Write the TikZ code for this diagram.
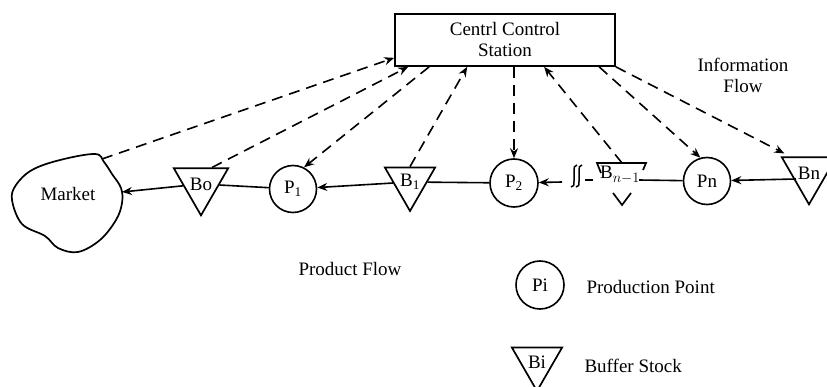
\documentclass[tikz,border=0pt]{standalone}
\usepackage{fontspec}
\setmainfont{Liberation Serif}
\usetikzlibrary{shapes.geometric,arrows.meta,calc}
\begin{document}
\begin{tikzpicture}[x=1pt,y=-1pt,
  every node/.style={font=\fontsize{19}{21}\selectfont},
  ln/.style={line width=1.6pt},
  info/.style={ln, dash pattern=on 11pt off 7pt, -{Stealth[length=10pt,width=8pt]}},
  prod/.style={ln, -{Stealth[length=10pt,width=8pt]}},
  pp/.style={circle, draw, line width=1.6pt, minimum size=47pt, inner sep=0pt},
  buf/.style={regular polygon, regular polygon sides=3, shape border rotate=180, draw, line width=1.7pt, minimum size=58pt, inner sep=0pt},
  brk/.style={line width=1.5pt},
  shp/.style={line width=1.7pt}]
\clip (0,0) rectangle (827,387);
% central station
\node[draw, line width=1.7pt, minimum width=220pt, minimum height=52pt, align=center] (box) at (505,40) {Centrl Control\\Station};
\node[align=center] (info) at (743,75) {Information\\Flow};
% market
\draw[shp] plot[smooth cycle, tension=0.6] coordinates {(12,200) (16,185) (32,170) (60,160) (95,154) (104,162) (112,174) (121,188) (122,203) (116,220) (100,240) (78,252) (58,248) (45,236) (22,224)};
\node (market) at (68,194) {Market};
\coordinate (mkR) at (122,192);
\coordinate (mkT) at (102,159);
% chain
\node[buf] (Bo) at (201,184) {Bo};
\node[pp] (P1) at (293,189) {P\textsubscript{1}};
\node[buf] (B1) at (410,182) {B\textsubscript{1}};
\node[pp, minimum size=48pt] (P2) at (514,183) {P\textsubscript{2}};
\node[inner sep=1pt] (Bm) at (620,175) {B$_{n-1}$};
\node[pp] (Pn) at (707,181) {Pn};
\node[buf] (Bn) at (809,173) {Bn};
% broken B_{n-1} triangle
\draw[shp] (601,173) -- (597,163) -- (646,163) -- (643,170);
\draw[shp] (613,193) -- (622,205) -- (631,193);
\coordinate (Bmt) at (622,163);
% break marks
\draw[brk] (577,165) .. controls (574,165) and (574,168) .. (574,171) -- (574,181) .. controls (574,185) and (574,187) .. (571,187);
\draw[brk] (582,165) .. controls (579,165) and (579,168) .. (579,171) -- (579,181) .. controls (579,185) and (579,187) .. (576,187);
\coordinate (brkL) at (562,182);
\coordinate (dA) at (585,180);
\coordinate (dB) at (593,180);
\coordinate (bmr) at (639,180);
\coordinate (bnl) at (796,179);
% product flow
\draw[prod] (Bo) -- (mkR);
\draw[ln] (P1) -- (Bo);
\draw[prod] (B1) -- (P1);
\draw[ln] (P2) -- (B1);
\draw[prod] (brkL) -- (P2);
\draw[ln] (dA) -- (dB);
\draw[ln] (bmr) -- (Pn);
\draw[prod] (bnl) -- (Pn);
% information flow
\draw[info] (mkT) -- ($(box.south west)+(0,-9)$);
\draw[info] ($(Bo.north)+(11,0)$) -- ($(box.south west)+(14,0)$);
\draw[info] ($(box.south west)+(35,0)$) -- (P1.63);
\draw[info] (B1.north) -- ($(box.south west)+(73,0)$);
\draw[info] ($(box.south)+(9,0)$) -- (P2.north);
\draw[info] (Bmt) -- ($(box.south west)+(150,0)$);
\draw[info] ($(box.south west)+(205,0)$) -- (Pn.106);
\draw[info] (box.south east) -- ($(Bn.corner 3)+(4,-3)$);
% labels
\node (pflow) at (350,269) {Product Flow};
\node[pp, minimum size=48pt] (Pi) at (540,285) {Pi};
\node[anchor=west] (pplab) at (583,287) {Production Point};
\node[buf] (Bi) at (537,362) {Bi};
\node[anchor=west] (bslab) at (581,366) {Buffer Stock};
\end{tikzpicture}
\end{document}
